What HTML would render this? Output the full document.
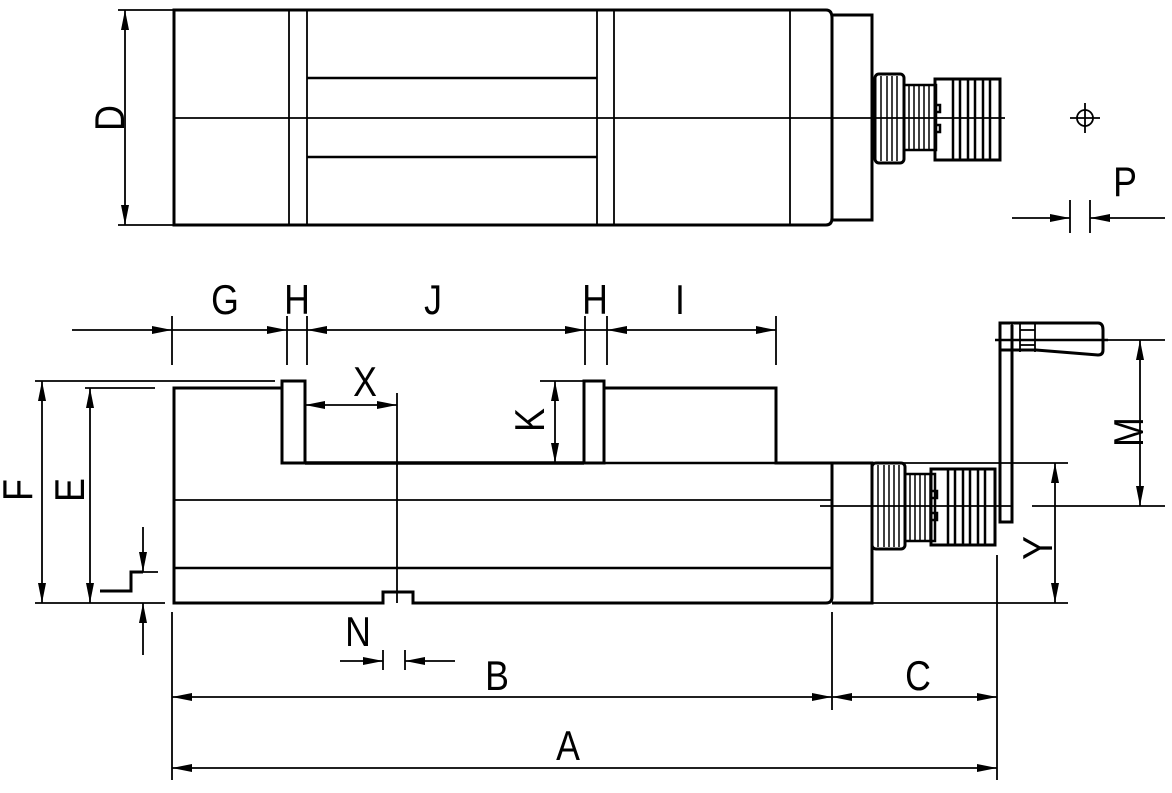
<!DOCTYPE html>
<html><head><meta charset="utf-8"><style>
html,body{margin:0;padding:0;background:#fff;}
svg{display:block;}
text{font-family:"Liberation Sans",Arial,sans-serif;font-size:42px;fill:#000;}
</style></head><body>
<svg width="1172" height="793" viewBox="0 0 1172 793" xmlns="http://www.w3.org/2000/svg">
<defs>
<marker id="a" viewBox="0 0 20 8" refX="20" refY="4" markerWidth="20" markerHeight="8" markerUnits="userSpaceOnUse" orient="auto-start-reverse"><path d="M0,0 L20,4 L0,8 z" fill="#000"/></marker>
</defs>
<g fill="none" stroke="#000" stroke-width="1.8">
<!-- TOP VIEW -->
<path d="M174,10 H826 Q832,10 832,18 V218 Q832,225 826,225 H174 Z" stroke-width="3"/>
<path d="M832,15 H872 V220 H832" stroke-width="3"/>
<line x1="289" y1="10" x2="289" y2="225"/><line x1="307" y1="10" x2="307" y2="225"/>
<line x1="597" y1="10" x2="597" y2="225"/><line x1="614" y1="10" x2="614" y2="225"/>
<line x1="790" y1="10" x2="790" y2="225"/>
<line x1="307" y1="78" x2="597" y2="78" stroke-width="2.5"/>
<line x1="307" y1="157" x2="597" y2="157" stroke-width="2.5"/>
<line x1="174" y1="118" x2="1005" y2="118"/>
<!-- top spindle -->
<rect x="875" y="74" width="29" height="89" rx="4" stroke-width="3"/>
<rect x="904" y="85" width="32" height="65" stroke-width="2.5"/>
<path d="M935,79 H1000 V160 H935 Z" stroke-width="3"/>
<g stroke-width="1.5">
<line x1="881" y1="76" x2="881" y2="161"/><line x1="887" y1="76" x2="887" y2="161"/><line x1="892" y1="76" x2="892" y2="161"/><line x1="897" y1="76" x2="897" y2="161"/>
<line x1="909" y1="86" x2="909" y2="149"/><line x1="914" y1="86" x2="914" y2="149"/><line x1="919" y1="86" x2="919" y2="149"/><line x1="924" y1="86" x2="924" y2="149"/><line x1="929" y1="86" x2="929" y2="149"/>
</g>
<g stroke-width="2.5">
<line x1="953" y1="79" x2="953" y2="160"/><line x1="960" y1="79" x2="960" y2="160"/>
<line x1="968" y1="79" x2="968" y2="160"/><line x1="975" y1="79" x2="975" y2="160"/>
<line x1="983" y1="79" x2="983" y2="160"/><line x1="990" y1="79" x2="990" y2="160"/>
<path d="M935,105 H940 V112 H935 M935,125 H940 V132 H935"/>
</g>
<!-- D -->
<line x1="118" y1="10" x2="174" y2="10"/><line x1="118" y1="225" x2="174" y2="225"/>
<line x1="125" y1="10" x2="125" y2="225" marker-start="url(#a)" marker-end="url(#a)"/>
<!-- target + P -->
<circle cx="1085" cy="118" r="8"/><line x1="1070" y1="118" x2="1100" y2="118"/><line x1="1085" y1="103" x2="1085" y2="133"/>
<line x1="1070" y1="200" x2="1070" y2="233"/><line x1="1090" y1="200" x2="1090" y2="233"/>
<line x1="1012" y1="218" x2="1070" y2="218" marker-end="url(#a)"/>
<line x1="1165" y1="218" x2="1090" y2="218" marker-end="url(#a)"/>

<!-- SIDE VIEW -->
<path d="M282,388 H174 V603 H383 V592 H413 V603 H826 Q832,603 832,597 V463 H776 V388 H604" stroke-width="3"/>
<rect x="282" y="381" width="23" height="82" stroke-width="3"/>
<rect x="584" y="381" width="20" height="82" stroke-width="3"/>
<line x1="305" y1="463" x2="584" y2="463" stroke-width="3.5"/>
<line x1="604" y1="463" x2="776" y2="463" stroke-width="2.5"/>
<line x1="174" y1="500" x2="832" y2="500"/>
<line x1="174" y1="568" x2="832" y2="568" stroke-width="2.5"/>
<path d="M832,463 H872 V603 H832" stroke-width="3"/>
<line x1="872" y1="463" x2="1068" y2="463"/>
<line x1="872" y1="603" x2="1068" y2="603"/>
<line x1="820" y1="506" x2="1012" y2="506"/>
<line x1="1032" y1="506" x2="1165" y2="506"/>
<!-- side spindle -->
<rect x="872" y="463" width="33" height="86" rx="4" stroke-width="3"/>
<rect x="905" y="474" width="30" height="67" stroke-width="2.5"/>
<path d="M931,469 H995 V545 H931 Z" stroke-width="3"/>
<g stroke-width="1.5">
<line x1="878" y1="465" x2="878" y2="547"/><line x1="884" y1="465" x2="884" y2="547"/><line x1="889" y1="465" x2="889" y2="547"/><line x1="894" y1="465" x2="894" y2="547"/><line x1="899" y1="465" x2="899" y2="547"/>
<line x1="910" y1="475" x2="910" y2="540"/><line x1="915" y1="475" x2="915" y2="540"/><line x1="920" y1="475" x2="920" y2="540"/><line x1="925" y1="475" x2="925" y2="540"/><line x1="930" y1="475" x2="930" y2="540"/>
</g>
<g stroke-width="2.5">
<line x1="948" y1="469" x2="948" y2="545"/><line x1="955" y1="469" x2="955" y2="545"/>
<line x1="963" y1="469" x2="963" y2="545"/><line x1="970" y1="469" x2="970" y2="545"/>
<line x1="978" y1="469" x2="978" y2="545"/><line x1="985" y1="469" x2="985" y2="545"/>
<path d="M931,491 H937 V498 H931 M931,513 H937 V520 H931"/>
</g>
<!-- handle -->
<path d="M1000,325 V522 H1012 V325" stroke-width="3"/>
<path d="M1000,323 H1098 Q1103,323 1103,330 V350 Q1103,355 1098,355 L1036,350 H1000 Z" stroke-width="3"/>
<line x1="1012" y1="323" x2="1012" y2="352"/>
<line x1="1020" y1="323" x2="1020" y2="352"/>
<line x1="1035" y1="323" x2="1035" y2="352"/>
<line x1="1020" y1="330" x2="1035" y2="330"/><line x1="1020" y1="345" x2="1035" y2="345"/>
<line x1="995" y1="340" x2="1108" y2="340" stroke-width="2.5"/>
<line x1="1105" y1="340" x2="1165" y2="340"/>
<!-- M, Y -->
<line x1="1140" y1="340" x2="1140" y2="506" marker-start="url(#a)" marker-end="url(#a)"/>
<line x1="1055" y1="463" x2="1055" y2="603" marker-start="url(#a)" marker-end="url(#a)"/>
<line x1="997" y1="555" x2="997" y2="780"/>
<!-- top dims -->
<line x1="72" y1="330" x2="172" y2="330" marker-end="url(#a)"/>
<line x1="172" y1="330" x2="287" y2="330" marker-end="url(#a)"/>
<line x1="330" y1="330" x2="307" y2="330" marker-end="url(#a)"/>
<line x1="330" y1="330" x2="585" y2="330" marker-end="url(#a)"/>
<line x1="630" y1="330" x2="607" y2="330" marker-end="url(#a)"/>
<line x1="630" y1="330" x2="776" y2="330" marker-end="url(#a)"/>
<line x1="287" y1="330" x2="307" y2="330"/><line x1="585" y1="330" x2="607" y2="330"/>
<line x1="172" y1="316" x2="172" y2="365"/><line x1="287" y1="316" x2="287" y2="365"/>
<line x1="307" y1="316" x2="307" y2="365"/><line x1="585" y1="316" x2="585" y2="365"/>
<line x1="607" y1="316" x2="607" y2="365"/><line x1="776" y1="316" x2="776" y2="365"/>
<!-- F, E -->
<line x1="35" y1="381" x2="275" y2="381"/>
<line x1="85" y1="388" x2="155" y2="388"/>
<line x1="35" y1="603" x2="165" y2="603"/>
<line x1="42" y1="381" x2="42" y2="603" marker-start="url(#a)" marker-end="url(#a)"/>
<line x1="90" y1="388" x2="90" y2="603" marker-start="url(#a)" marker-end="url(#a)"/>
<!-- L -->
<line x1="135" y1="572" x2="158" y2="572"/>
<line x1="143" y1="527" x2="143" y2="572" marker-end="url(#a)"/>
<line x1="143" y1="655" x2="143" y2="603" marker-end="url(#a)"/>
<path d="M100,591 H131 V572 H143" stroke-width="3"/>
<!-- X -->
<line x1="305" y1="405" x2="397" y2="405" marker-start="url(#a)" marker-end="url(#a)"/>
<line x1="397" y1="393" x2="397" y2="603"/>
<!-- K -->
<line x1="540" y1="381" x2="584" y2="381"/>
<line x1="555" y1="381" x2="555" y2="463" marker-start="url(#a)" marker-end="url(#a)"/>
<!-- N -->
<line x1="383" y1="650" x2="383" y2="670"/><line x1="405" y1="650" x2="405" y2="670"/>
<line x1="340" y1="661" x2="383" y2="661" marker-end="url(#a)"/>
<line x1="455" y1="661" x2="405" y2="661" marker-end="url(#a)"/>
<!-- A B C -->
<line x1="172" y1="612" x2="172" y2="780"/>
<line x1="832" y1="612" x2="832" y2="710"/>
<line x1="172" y1="697" x2="832" y2="697" marker-start="url(#a)" marker-end="url(#a)"/>
<line x1="832" y1="697" x2="997" y2="697" marker-start="url(#a)" marker-end="url(#a)"/>
<line x1="172" y1="768" x2="997" y2="768" marker-start="url(#a)" marker-end="url(#a)"/>
</g>
<g text-anchor="middle">
<text transform="translate(225,314) scale(0.85,1)">G</text>
<text transform="translate(297,314) scale(0.85,1)">H</text>
<text transform="translate(433,314) scale(0.85,1)">J</text>
<text transform="translate(595,314) scale(0.85,1)">H</text>
<text transform="translate(680,314) scale(0.85,1)">I</text>
<text transform="translate(365,396) scale(0.85,1)">X</text>
<text transform="translate(358,646) scale(0.85,1)">N</text>
<text transform="translate(497,690) scale(0.85,1)">B</text>
<text transform="translate(918,690) scale(0.85,1)">C</text>
<text transform="translate(568,760) scale(0.85,1)">A</text>
<text transform="translate(1125,196) scale(0.85,1)">P</text>
<text transform="translate(124,118) rotate(-90) scale(0.85,1)">D</text>
<text transform="translate(32,490) rotate(-90) scale(0.85,1)">F</text>
<text transform="translate(84,490) rotate(-90) scale(0.85,1)">E</text>
<text transform="translate(544,420) rotate(-90) scale(0.85,1)">K</text>
<text transform="translate(1143,432) rotate(-90) scale(0.85,1)">M</text>
<text transform="translate(1052,548) rotate(-90) scale(0.85,1)">Y</text>
</g>
</svg>
</body></html>
